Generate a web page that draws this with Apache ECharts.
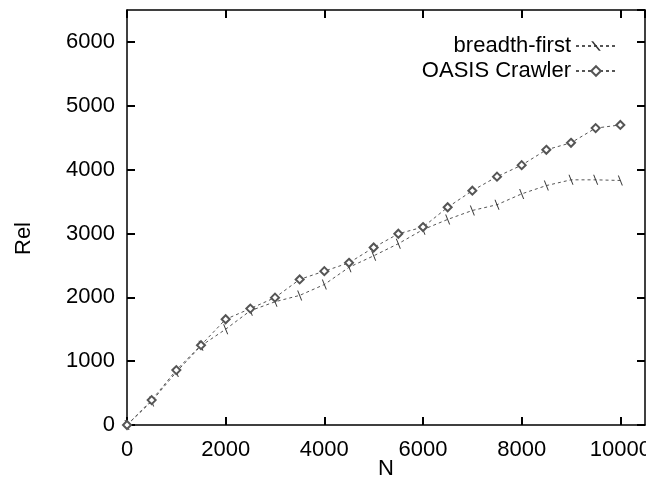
<!DOCTYPE html>
<html>
<head>
<meta charset="utf-8">
<script src="https://cdn.jsdelivr.net/npm/echarts@6/dist/echarts.min.js"></script>
<style>
  html, body { margin: 0; padding: 0; background: #fff; }
  /* plot frame ends at the right edge of the box, so the last label is clipped as in the source */
  #chart { width: 646px; height: 483px; }
</style>
</head>
<body>
<div id="chart"></div>
<script>
// N (pages crawled)
const nValues = [0, 500, 1000, 1500, 2000, 2500, 3000, 3500, 4000, 4500, 5000,
  5500, 6000, 6500, 7000, 7500, 8000, 8500, 9000, 9500, 10000];
// Rel
const breadthFirst = [0, 370, 830, 1240, 1500, 1790, 1930, 2030, 2200, 2470, 2650,
  2840, 3060, 3220, 3360, 3450, 3620, 3750, 3840, 3840, 3830];
const oasisCrawler = [0, 390, 860, 1250, 1656, 1823, 1995, 2280, 2410, 2540, 2780,
  2995, 3100, 3410, 3670, 3890, 4070, 4310, 4420, 4650, 4700];

const seriesNames = ['breadth-first', 'OASIS Crawler'];

const font = 'Liberation Sans, Arial, sans-serif';

const pairs = (ys) => nValues.map((n, i) => [n, ys[i]]);

const chart = echarts.init(document.getElementById('chart'));

// fresh objects for every axis (echarts merges into them)
const frameLine = () => ({ show: true, onZero: false, lineStyle: { color: '#000', width: 1.5 } });
const innerTick = () => ({ show: true, inside: true, length: 8, lineStyle: { color: '#000', width: 2 } });
const plainNum = (v) => String(v);

chart.setOption({
  animation: false,
  backgroundColor: '#fff',
  textStyle: { fontFamily: font },
  grid: { left: 127, right: 1, top: 10, bottom: 58, outerBoundsMode: 'none' },
  legend: {
    data: seriesNames,
    orient: 'vertical',
    align: 'right',
    right: 24,
    top: 30,
    itemGap: 3,
    itemWidth: 40,
    itemHeight: 12,
    textStyle: { fontSize: 22, color: '#000', fontFamily: font, lineHeight: 22 }
  },
  xAxis: [{
    type: 'value',
    min: 0,
    max: 10500,
    interval: 2000,
    name: 'N',
    nameLocation: 'middle',
    nameGap: 33,
    nameMoveOverlap: false,
    nameTextStyle: { fontSize: 22, color: '#000' },
    axisLine: frameLine(),
    axisTick: innerTick(),
    axisLabel: { fontSize: 22, color: '#000', margin: 14, showMaxLabel: false, formatter: plainNum },
    splitLine: { show: false }
  }, {
    type: 'value',
    position: 'top',
    min: 0,
    max: 10500,
    interval: 2000,
    axisLine: frameLine(),
    axisTick: innerTick(),
    axisLabel: { show: false },
    splitLine: { show: false }
  }],
  yAxis: [{
    type: 'value',
    min: 0,
    max: 6500,
    interval: 1000,
    name: 'Rel',
    nameLocation: 'middle',
    nameRotate: 90,
    nameGap: 92,
    nameMoveOverlap: false,
    nameTextStyle: { fontSize: 22, color: '#000', padding: [0, 42, 0, 0] },
    axisLine: frameLine(),
    axisTick: innerTick(),
    axisLabel: { fontSize: 22, color: '#000', margin: 12, showMaxLabel: false, formatter: plainNum },
    splitLine: { show: false }
  }, {
    type: 'value',
    position: 'right',
    min: 0,
    max: 6500,
    interval: 1000,
    axisLine: frameLine(),
    axisTick: innerTick(),
    axisLabel: { show: false },
    splitLine: { show: false }
  }],
  series: [{
    name: seriesNames[0],
    type: 'line',
    data: pairs(breadthFirst),
    symbol: 'path://M0,0L2,0L10,20L8,20Z',
    symbolSize: [5, 10],
    showAllSymbol: true,
    itemStyle: { color: '#333', borderWidth: 0 },
    lineStyle: { color: '#555', width: 1, type: [3, 3] }
  }, {
    name: seriesNames[1],
    type: 'line',
    data: pairs(oasisCrawler),
    symbol: 'emptyDiamond',
    symbolSize: 8,
    showAllSymbol: true,
    itemStyle: { color: '#555', borderWidth: 1 },
    lineStyle: { color: '#555', width: 1, type: [3, 3] }
  }]
});
</script>
</body>
</html>
